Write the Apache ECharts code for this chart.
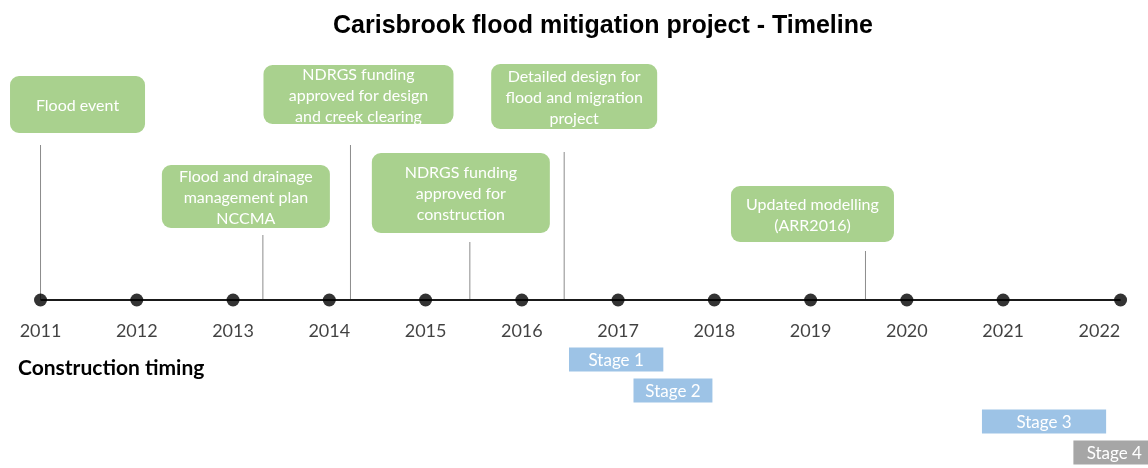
<!DOCTYPE html>
<html lang="en" style="height: 100%">

<head>
  <meta charset="utf-8">
</head>

<body style="height: 100%; margin: 0; background: #fff;">
  <div id="container" style="height: 100%;"></div>

  <script type="text/javascript" src="https://cdn.jsdelivr.net/npm/echarts@6/dist/echarts.min.js"></script>

  <script type="text/javascript">
    // year ticks along the timeline
    var years = [2011, 2012, 2013, 2014, 2015, 2016, 2017, 2018, 2019, 2020, 2021, 2022];
    // dots on the line (the last one sits a little past the 2022 label)
    var dotYears = [2011, 2012, 2013, 2014, 2015, 2016, 2017, 2018, 2019, 2020, 2021, 2022.22];

    // milestones and when they happened
    var eventNames = [
      'Flood event',
      'Flood and drainage\nmanagement plan\nNCCMA',
      'NDRGS funding\napproved for design\nand creek clearing',
      'NDRGS funding\napproved for\nconstruction',
      'Detailed design for\nflood and migration\nproject',
      'Updated modelling\n(ARR2016)'
    ];
    var eventDates = [2011.0, 2013.31, 2014.22, 2015.46, 2016.44, 2019.57];

    // construction stages
    var stageNames = ['Stage 1', 'Stage 2', 'Stage 3', 'Stage 4'];
    var stageStart = [2016.49, 2017.16, 2020.78, 2021.73];
    var stageEnd = [2017.47, 2017.98, 2022.07, 2022.58];

    // where each callout box sits (px): centre offset from its date, top, size, top of stem
    var calloutBox = [
      { dx: 37, top: 76, w: 135, h: 57, stem: 145 },
      { dx: -17, top: 165, w: 168, h: 63, stem: 235 },
      { dx: 8, top: 65, w: 190, h: 59, stem: 145 },
      { dx: -9, top: 153, w: 178, h: 80, stem: 242 },
      { dx: 10, top: 64, w: 166, h: 65, stem: 152 },
      { dx: -53, top: 186, w: 163, h: 56, stem: 251 }
    ];

    var xMin = 2010.579;
    var xMax = 2022.505;
    var font = 'Lato, "Open Sans", sans-serif';

    var dom = document.getElementById('container');
    var myChart = echarts.init(dom, null, { renderer: 'canvas' });

    function renderCallout(params, api) {
      var i = params.dataIndex;
      var b = calloutBox[i];
      var p = api.coord([api.value(0), 0]);
      var cx = p[0] + b.dx;
      return {
        type: 'group',
        children: [
          {
            type: 'line',
            shape: { x1: p[0], y1: b.stem, x2: p[0], y2: p[1] },
            style: { stroke: '#8c8c8c', lineWidth: 1 }
          },
          {
            type: 'rect',
            shape: { x: cx - b.w / 2, y: b.top, width: b.w, height: b.h, r: 9 },
            style: { fill: '#a9d18e' }
          },
          {
            type: 'text',
            x: cx,
            y: b.top + b.h / 2 + 1,
            style: {
              text: eventNames[i],
              fill: '#ffffff',
              fontSize: 16,
              fontFamily: font,
              align: 'center',
              verticalAlign: 'middle',
              lineHeight: 21
            }
          }
        ]
      };
    }

    function renderStage(params, api) {
      var s = api.coord([api.value(0), api.value(2)]);
      var e = api.coord([api.value(1), api.value(2)]);
      var h = api.size([0, 1])[1] * 0.77;
      var fill = params.dataIndex === 3 ? '#a6a6a6' : '#9dc3e6';
      return {
        type: 'group',
        children: [
          {
            type: 'rect',
            shape: { x: s[0], y: s[1] - h / 2, width: e[0] - s[0], height: h },
            style: { fill: fill }
          },
          {
            type: 'text',
            x: (s[0] + e[0]) / 2,
            y: s[1] + 1,
            style: {
              text: stageNames[params.dataIndex],
              fill: '#ffffff',
              fontSize: 17,
              fontFamily: font,
              align: 'center',
              verticalAlign: 'middle'
            }
          }
        ]
      };
    }

    var option = {
      animation: false,
      title: [
        {
          text: 'Carisbrook flood mitigation project - Timeline',
          left: 603,
          top: 14,
          padding: 0,
          textAlign: 'center',
          textStyle: { fontFamily: '"Liberation Sans", Arial, sans-serif', fontSize: 25, fontWeight: 'bold', color: '#000' }
        },
        {
          text: 'Construction timing',
          left: 18,
          top: 358,
          padding: 0,
          textStyle: { fontFamily: font, fontSize: 21, fontWeight: 'bold', color: '#000' }
        }
      ],
      grid: [
        { left: 0, right: 0, top: 0, height: 300 },
        { left: 0, right: 0, top: 344, height: 131 }
      ],
      xAxis: [
        { type: 'value', gridIndex: 0, min: xMin, max: xMax, show: false },
        { type: 'value', gridIndex: 1, min: xMin, max: xMax, show: false }
      ],
      yAxis: [
        { type: 'value', gridIndex: 0, min: 0, max: 1, show: false },
        { type: 'category', gridIndex: 1, data: stageNames, inverse: true, show: false }
      ],
      series: [
        {
          type: 'custom',
          name: 'events',
          xAxisIndex: 0,
          yAxisIndex: 0,
          renderItem: renderCallout,
          data: eventDates.map(function (d) { return [d, 0]; }),
          z: 1
        },
        {
          type: 'line',
          name: 'timeline',
          xAxisIndex: 0,
          yAxisIndex: 0,
          data: [[dotYears[0], 0], [dotYears[dotYears.length - 1], 0]],
          symbol: 'none',
          lineStyle: { color: '#1a1a1a', width: 2 },
          z: 2
        },
        {
          type: 'scatter',
          name: 'dots',
          xAxisIndex: 0,
          yAxisIndex: 0,
          data: dotYears.map(function (y) { return [y, 0]; }),
          symbolSize: 13,
          itemStyle: { color: '#000' },
          z: 3
        },
        {
          type: 'scatter',
          name: 'years',
          xAxisIndex: 0,
          yAxisIndex: 0,
          data: years.map(function (y) { return [y, 0]; }),
          symbolSize: 0,
          label: {
            show: true,
            position: 'bottom',
            distance: 22,
            formatter: function (p) { return String(p.value[0]); },
            fontFamily: font,
            fontSize: 18,
            color: '#111'
          },
          z: 3
        },
        {
          type: 'custom',
          name: 'stages',
          xAxisIndex: 1,
          yAxisIndex: 1,
          renderItem: renderStage,
          data: stageNames.map(function (n, i) { return [stageStart[i], stageEnd[i], i]; }),
          encode: { x: [0, 1], y: 2 }
        }
      ]
    };

    myChart.setOption(option, true);
    window.addEventListener('resize', myChart.resize);
  </script>
</body>

</html>
